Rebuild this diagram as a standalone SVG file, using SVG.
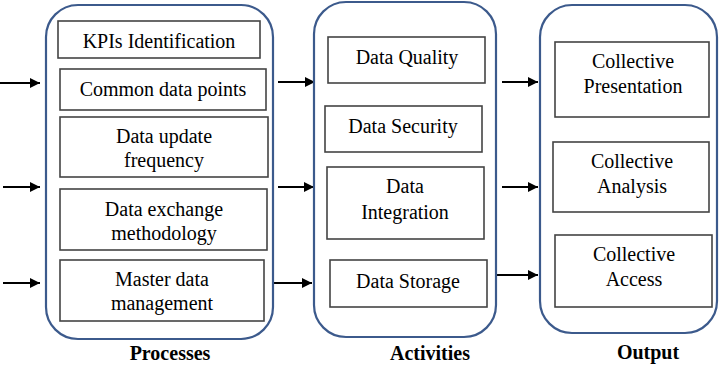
<svg xmlns="http://www.w3.org/2000/svg" width="719" height="365" viewBox="0 0 719 365">
<defs>
<marker id="ah" viewBox="0 0 10 10" refX="10" refY="5" markerWidth="5" markerHeight="5" orient="auto" markerUnits="strokeWidth">
<path d="M0,0 L10,5 L0,10 z" fill="#000"/>
</marker>
</defs>
<style>
.cont{fill:#fff;stroke:#3c5a8c;stroke-width:2.2}
.box{fill:#fff;stroke:#444;stroke-width:1.6}
.ar{stroke:#000;stroke-width:2;fill:none;marker-end:url(#ah)}
</style>
<rect width="719" height="365" fill="#fff"/>
<g id="connectors">
<line class="ar" x1="0" y1="83" x2="40" y2="83"/>
<line class="ar" x1="3" y1="187" x2="40" y2="187"/>
<line class="ar" x1="3" y1="283" x2="40" y2="283"/>
<line class="ar" x1="278" y1="82" x2="315" y2="82"/>
<line class="ar" x1="278" y1="187" x2="314" y2="187"/>
<line class="ar" x1="273" y1="283" x2="312" y2="283"/>
<line class="ar" x1="502" y1="82" x2="538" y2="82"/>
<line class="ar" x1="502" y1="187" x2="538" y2="187"/>
<line class="ar" x1="497" y1="275" x2="538" y2="275"/>
</g>
<g id="processes">
<rect class="cont" x="46" y="5" width="227" height="334" rx="32"/>
<text x="170" y="360" text-anchor="middle" font-family="Liberation Serif" font-size="20" font-weight="bold">Processes</text>
</g>
<g id="kpis"><rect class="box" x="58" y="21" width="202" height="37"/><text x="159" y="48" text-anchor="middle" font-family="Liberation Serif" font-size="20">KPIs Identification</text></g>
<g id="common"><rect class="box" x="60" y="69" width="206" height="41"/><text x="163" y="96" text-anchor="middle" font-family="Liberation Serif" font-size="20">Common data points</text></g>
<g id="update"><rect class="box" x="60" y="117" width="208" height="60"/><text x="164" y="143" text-anchor="middle" font-family="Liberation Serif" font-size="20">Data update</text><text x="164" y="167" text-anchor="middle" font-family="Liberation Serif" font-size="20">frequency</text></g>
<g id="exchange"><rect class="box" x="60" y="189" width="207" height="61"/><text x="164" y="216" text-anchor="middle" font-family="Liberation Serif" font-size="20">Data exchange</text><text x="164" y="240" text-anchor="middle" font-family="Liberation Serif" font-size="20">methodology</text></g>
<g id="master"><rect class="box" x="60" y="260" width="204" height="61"/><text x="162" y="286" text-anchor="middle" font-family="Liberation Serif" font-size="20">Master data</text><text x="162" y="310" text-anchor="middle" font-family="Liberation Serif" font-size="20">management</text></g>
<g id="activities">
<rect class="cont" x="314" y="2" width="182" height="335" rx="32"/>
<text x="430" y="360" text-anchor="middle" font-family="Liberation Serif" font-size="20" font-weight="bold">Activities</text>
</g>
<g id="quality"><rect class="box" x="328" y="37" width="157" height="46"/><text x="407" y="64" text-anchor="middle" font-family="Liberation Serif" font-size="20">Data Quality</text></g>
<g id="security"><rect class="box" x="325" y="106" width="157" height="46"/><text x="403" y="133" text-anchor="middle" font-family="Liberation Serif" font-size="20">Data Security</text></g>
<g id="integration"><rect class="box" x="327" y="167" width="157" height="72"/><text x="405" y="193" text-anchor="middle" font-family="Liberation Serif" font-size="20">Data</text><text x="405" y="219" text-anchor="middle" font-family="Liberation Serif" font-size="20">Integration</text></g>
<g id="storage"><rect class="box" x="330" y="260" width="157" height="47"/><text x="408" y="288" text-anchor="middle" font-family="Liberation Serif" font-size="20">Data Storage</text></g>
<g id="output">
<rect class="cont" x="540" y="5" width="177" height="328" rx="32"/>
<text x="648" y="359" text-anchor="middle" font-family="Liberation Serif" font-size="20" font-weight="bold">Output</text>
</g>
<g id="presentation"><rect class="box" x="555" y="42" width="154" height="75"/><text x="633" y="68" text-anchor="middle" font-family="Liberation Serif" font-size="20">Collective</text><text x="633" y="93" text-anchor="middle" font-family="Liberation Serif" font-size="20">Presentation</text></g>
<g id="analysis"><rect class="box" x="553" y="142" width="156" height="70"/><text x="632" y="168" text-anchor="middle" font-family="Liberation Serif" font-size="20">Collective</text><text x="632" y="193" text-anchor="middle" font-family="Liberation Serif" font-size="20">Analysis</text></g>
<g id="access"><rect class="box" x="555" y="235" width="157" height="72"/><text x="634" y="261" text-anchor="middle" font-family="Liberation Serif" font-size="20">Collective</text><text x="634" y="286" text-anchor="middle" font-family="Liberation Serif" font-size="20">Access</text></g>
</svg>
